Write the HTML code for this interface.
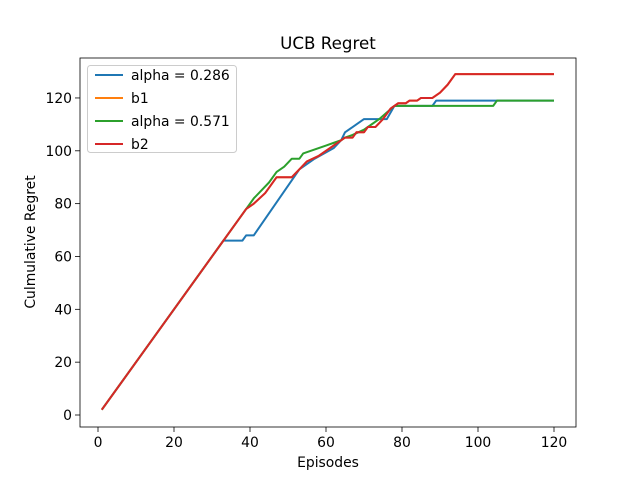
<!DOCTYPE html>
<html><head><meta charset="utf-8"><style>
body{margin:0;background:#fff;font-family:"Liberation Sans","DejaVu Sans",sans-serif}
svg text{font-family:"DejaVu Sans","Liberation Sans",sans-serif}
</style></head><body>
<svg id="c" width="640" height="480"></svg>
<script>
const xTicks=[0,20,40,60,80,100,120];
const yTicks=[0,20,40,60,80,100,120];
const seriesNames=["alpha = 0.286","b1","alpha = 0.571","b2"];
const colors=["#1f77b4","#ff7f0e","#2ca02c","#d62728"];
const blueX=[1,33,38,39,41,53,57,62,64,65,67,70,74,76,78,88,89,120];
const blueY=[2,66,66,68,68,93,97,101,104,107,109,112,112,112,117,117,119,119];
const redX=[1,39,41,44,47,51,53,55,58,60,62,65,67,68,70,71,73,75,77,79,81,82,84,85,88,90,92,94,120];
const redY=[2,78,80,84,90,90,93,96,98,100,102,105,105,107,107,109,109,112,116,118,118,119,119,120,120,122,125,129,129];
const greenX=[1,39,41,43,45,47,49,51,53,54,56,58,60,62,64,65,67,70,72,74,78,104,105,120];
const greenY=[2,78,82,85,88,92,94,97,97,99,100,101,102,103,104,105,106,108,110,112,117,117,119,119];
const L=80,R=576,T=58,B=427;
const sx=v=>98+v*3.8, sy=v=>415-v*2.642;
const svg=document.getElementById('c');
const NS="http://www.w3.org/2000/svg";
function mk(t,a,p){const e=document.createElementNS(NS,t);for(const k in a)e.setAttribute(k,a[k]);(p||svg).appendChild(e);return e;}
const t1=mk('text',{x:328,y:49,'text-anchor':'middle','font-size':16.7});t1.textContent="UCB Regret";


xTicks.forEach(v=>{
 const g=mk('g',{});
 
 
 mk('line',{x1:sx(v),x2:sx(v),y1:B,y2:B+5,stroke:'#000','stroke-width':0.8},g);
 const t=mk('text',{x:sx(v),y:B+20,'text-anchor':'middle','font-size':13.9},g);t.textContent=v;
});
yTicks.forEach(v=>{
 const g=mk('g',{});
 
 
 mk('line',{x1:L-5,x2:L,y1:sy(v),y2:sy(v),stroke:'#000','stroke-width':0.8},g);
 const t=mk('text',{x:L-8,y:sy(v)+5,'text-anchor':'end','font-size':13.9},g);t.textContent=v;
});
const xl=mk('text',{x:328,y:467,'text-anchor':'middle','font-size':13.9});xl.textContent="Episodes";


const yl=mk('text',{x:35,y:242,'text-anchor':'middle','font-size':13.9,transform:'rotate(-90 35 242)'});yl.textContent="Culmulative Regret";


function line(xs,ys,col,name){
 const p=mk('polyline',{points:xs.map((x,i)=>sx(x)+','+sy(ys[i])).join(' '),fill:'none',stroke:col,'stroke-width':2,'stroke-linejoin':'round'});
 
 
}
line(blueX,blueY,colors[0],'line-alpha-0286');
line(redX,redY,colors[1],'line-b1');
line(greenX,greenY,colors[2],'line-alpha-0571');
line(redX,redY,colors[3],'line-b2');
const fr=mk('rect',{x:L,y:T,width:R-L,height:B-T,fill:'none',stroke:'#000','stroke-width':0.8});


const lg=mk('g',{});


mk('rect',{x:87.5,y:65.5,width:149,height:87,rx:3,fill:'#fff','fill-opacity':0.8,stroke:'#ccc'},lg);
seriesNames.forEach((n,i)=>{
 const g=mk('g',{},lg);
 
 
 const y=75+i*23;
 mk('line',{x1:95,x2:123,y1:y,y2:y,stroke:colors[i],'stroke-width':2},g);
 const t=mk('text',{x:131,y:y+5,'font-size':13.9},g);t.textContent=n;
});
</script>
</body></html>
